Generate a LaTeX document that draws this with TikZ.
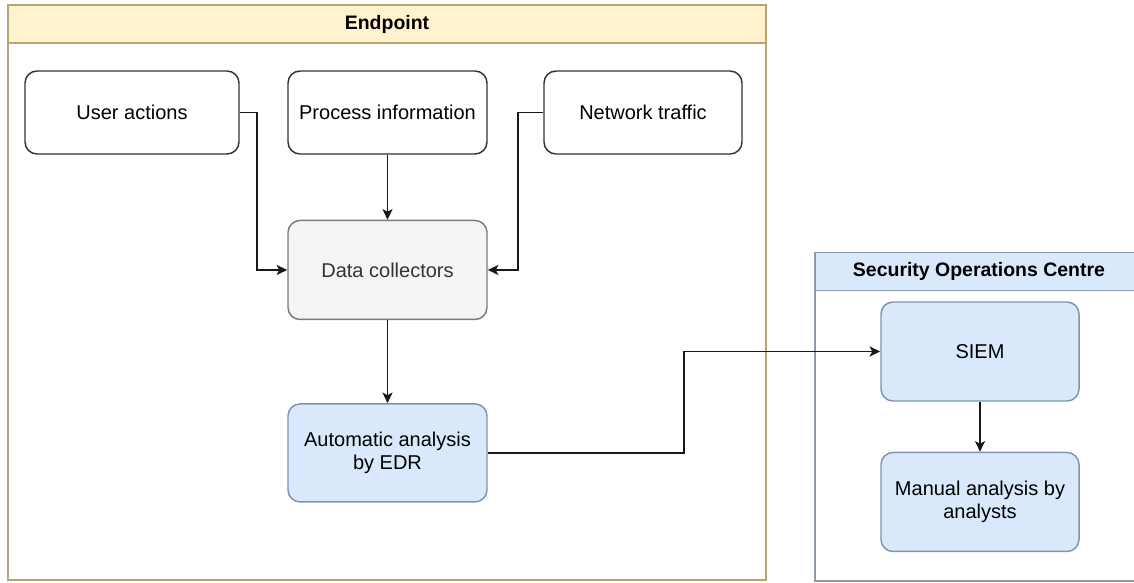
\documentclass[tikz,border=0pt]{standalone}
\usepackage{fontspec}
\setmainfont{Liberation Sans}
\usetikzlibrary{arrows.meta,positioning}
\definecolor{endpoint-fill}{HTML}{FFF2CC}
\definecolor{endpoint-line}{HTML}{B4A576}
\definecolor{soc-fill}{HTML}{DAE8FC}
\definecolor{soc-line}{HTML}{8D98AB}
\definecolor{blue-line}{HTML}{7D92B5}
\definecolor{grey-fill}{HTML}{F5F5F5}
\definecolor{grey-line}{HTML}{7A7A7A}
\definecolor{grey-text}{HTML}{333333}

\begin{document}
\begin{tikzpicture}[x=0.75pt, y=-0.75pt, line width=1.1pt,
    main/.style={rectangle, rounded corners=9pt, draw=black!80, fill=white, align=center,
        font=\fontsize{15}{17.25}\selectfont, minimum width=149.25pt, minimum height=74.25pt},
    source/.style={main, minimum height=62.25pt},
    tool/.style={main, draw=blue-line, fill=soc-fill},
    collector/.style={main, draw=grey-line, fill=grey-fill, text=grey-text},
    lanehead/.style={rectangle, draw, font=\bfseries\fontsize{14.6}{17}\selectfont, minimum height=28.5pt},
    flow/.style={-{Stealth[length=8pt,width=7.5pt,inset=2pt]}, line width=1.3pt, black!90}]

    \useasboundingbox (0,0) rectangle (1134,582);
    \clip (0,0) rectangle (1134,582);

    % lanes
    \draw[endpoint-line] (8,5) rectangle (766,580);
    \node[lanehead, draw=endpoint-line, fill=endpoint-fill, minimum width=568.5pt] (endpoint) at (387,24) {Endpoint};
    \draw[soc-line] (815,253) rectangle (1143,581);
    \node[lanehead, draw=soc-line, fill=soc-fill, minimum width=246pt] (soc) at (979,271.5) {Security Operations Centre};

    % endpoint side
    \node[source, minimum width=160.5pt] (useract) at (132,112.5) {User actions};
    \node[source] (procinfo) at (387.5,112.5) {Process information};
    \node[source, minimum width=148.5pt] (nettraffic) at (643,112.5) {Network traffic};
    \node[collector] (collect) [below=48.75pt of procinfo] {Data collectors};
    \node[tool, minimum height=73.5pt] (edr) [below=62.25pt of collect] {Automatic analysis\\by EDR};

    % soc side
    \node[tool, minimum width=148.5pt] (siem) at (980,351.5) {SIEM};
    \node[tool, minimum width=148.5pt] (manual) [below=37.5pt of siem] {Manual analysis by\\analysts};

    \draw[flow] (useract.east) -- ++(17,0) |- (collect.west);
    \draw[flow] (procinfo) -- (collect);
    \draw[flow] (nettraffic.west) -- ++(-25,0) |- (collect.east);
    \draw[flow] (collect) -- (edr);
    \draw[flow] (edr.east) -- ++(196,0) |- (siem.west);
    \draw[flow] (siem) -- (manual);

\end{tikzpicture}
\end{document}
